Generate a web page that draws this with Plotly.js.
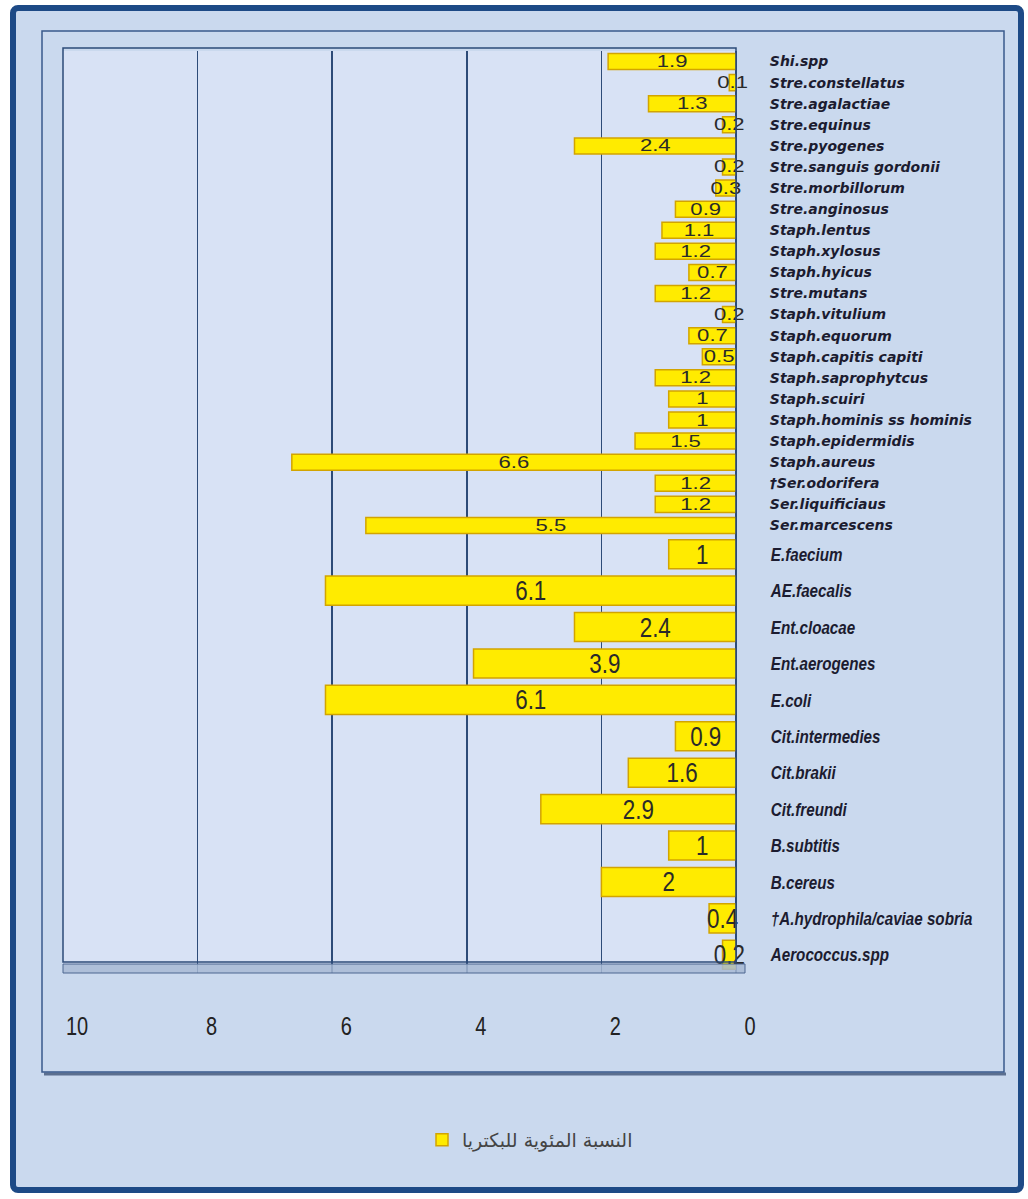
<!DOCTYPE html>
<html>
<head>
<meta charset="utf-8">
<script src="https://cdn.plot.ly/plotly-3.0.1.min.js"></script>
<style>
  html, body { margin: 0; padding: 0; background: #ffffff; }
  #frame {
    position: absolute; left: 10px; top: 5px; width: 1002px; height: 1176px;
    border: 6px solid #1d4a86; border-radius: 8px; background: #cad9ee;
  }
  #chart { position: absolute; left: 0; top: 0; width: 1028px; height: 1199px; }
</style>
</head>
<body>
<div id="frame"></div>
<div id="chart"></div>
<script>
// Gram-positive cocci and Serratia group (upper panel)
const speciesUpper = [
  'Shi.spp', 'Stre.constellatus', 'Stre.agalactiae', 'Stre.equinus', 'Stre.pyogenes',
  'Stre.sanguis gordonii', 'Stre.morbillorum', 'Stre.anginosus', 'Staph.lentus',
  'Staph.xylosus', 'Staph.hyicus', 'Stre.mutans', 'Staph.vitulium', 'Staph.equorum',
  'Staph.capitis capiti', 'Staph.saprophytcus', 'Staph.scuiri', 'Staph.hominis ss hominis',
  'Staph.epidermidis', 'Staph.aureus', '†Ser.odorifera', 'Ser.liquificiaus', 'Ser.marcescens'
];
const percentUpper = [
  1.9, 0.1, 1.3, 0.2, 2.4,
  0.2, 0.3, 0.9, 1.1,
  1.2, 0.7, 1.2, 0.2, 0.7,
  0.5, 1.2, 1, 1,
  1.5, 6.6, 1.2, 1.2, 5.5
];

// Enterococcus, Enterobacter, Citrobacter, Bacillus and others (lower panel)
const speciesLower = [
  'E.faecium', 'AE.faecalis', 'Ent.cloacae', 'Ent.aerogenes', 'E.coli',
  'Cit.intermedies', 'Cit.brakii', 'Cit.freundi', 'B.subtitis', 'B.cereus',
  '†A.hydrophila/caviae sobria', 'Aerococcus.spp'
];
const percentLower = [1, 6.1, 2.4, 3.9, 6.1, 0.9, 1.6, 2.9, 1, 2, 0.4, 0.2];

const xTicks = [0, 2, 4, 6, 8, 10];
const seriesName = 'النسبة المئوية للبكتريا';

const W = 1028, H = 1199;
const px = v => v / W;            // page x pixel -> paper fraction
const py = v => 1 - v / H;        // page y pixel -> paper fraction

const barFill = '#ffeb00';
const barEdge = '#d2a400';
const sans = '"Liberation Sans", Arial, sans-serif';

const upper = {
  type: 'bar', orientation: 'h',
  x: percentUpper, y: speciesUpper,
  xaxis: 'x', yaxis: 'y',
  name: seriesName, legendgroup: 'pct', showlegend: true,
  width: 0.76,
  marker: { color: barFill, line: { color: barEdge, width: 1.5 } },
  texttemplate: '%{x}', textposition: 'inside', insidetextanchor: 'middle',
  textangle: 0, constraintext: 'none', cliponaxis: false,
  textfont: { family: sans, size: 17, color: '#2a2a2a' },
  hoverinfo: 'skip'
};

const lower = {
  type: 'bar', orientation: 'h',
  x: percentLower, y: speciesLower,
  xaxis: 'x', yaxis: 'y2',
  name: seriesName, legendgroup: 'pct', showlegend: false,
  width: 0.8,
  marker: { color: barFill, line: { color: barEdge, width: 1.5 } },
  texttemplate: '%{x}', textposition: 'inside', insidetextanchor: 'middle',
  textangle: 0, constraintext: 'none', cliponaxis: false,
  textfont: { family: sans, size: 28, color: '#2a2a2a' },
  hoverinfo: 'skip'
};

const gridColor = '#2d4b78';
const catAxis = {
  type: 'category', autorange: 'reversed', side: 'right', anchor: 'x',
  showgrid: false, zeroline: false, showline: false,
  ticks: 'outside', ticklen: 30, tickcolor: 'rgba(0,0,0,0)',
  fixedrange: true
};

const layout = {
  width: W, height: H,
  margin: { l: 0, r: 0, t: 0, b: 0, pad: 0 },
  paper_bgcolor: 'rgba(0,0,0,0)',
  plot_bgcolor: '#d8e2f5',
  showlegend: true,
  legend: {
    x: px(530), y: py(1140), xanchor: 'center', yanchor: 'middle',
    bgcolor: 'rgba(0,0,0,0)',
    font: { family: '"DejaVu Sans", sans-serif', size: 19, color: '#444444' }
  },
  xaxis: {
    domain: [px(63), px(736)], range: [10, 0], anchor: 'y2',
    tickvals: xTicks,
    showgrid: true, gridcolor: gridColor, gridwidth: 1.5,
    zeroline: true, zerolinecolor: gridColor, zerolinewidth: 1.5,
    showline: false,
    ticks: 'outside', ticklen: 31, tickcolor: 'rgba(0,0,0,0)',
    ticklabelshift: -14,
    tickfont: { family: sans, size: 25, color: '#222222' },
    fixedrange: true
  },
  yaxis: Object.assign({}, catAxis, {
    domain: [py(536), py(51)],
    tickfont: { family: '"DejaVu Sans", sans-serif', size: 14, weight: 'bold', style: 'italic', color: '#1c1c30' }
  }),
  yaxis2: Object.assign({}, catAxis, {
    domain: [py(973), py(536)],
    tickfont: { family: sans, size: 19, weight: 'bold', style: 'italic', color: '#1c1c30' }
  }),
  shapes: [
    // inner chart panel border with drop shadow
    { type: 'line', xref: 'paper', yref: 'paper', x0: px(44), x1: px(1006), y0: py(1074), y1: py(1074),
      line: { color: '#5b6f8f', width: 3 } },
    { type: 'rect', xref: 'paper', yref: 'paper', x0: px(42), x1: px(1004), y0: py(1072), y1: py(31),
      line: { color: '#3a5a8c', width: 1.5 }, fillcolor: 'rgba(0,0,0,0)' },
    // plot area walls
    { type: 'rect', xref: 'paper', yref: 'paper', x0: px(63), x1: px(736), y0: py(962), y1: py(48),
      line: { color: gridColor, width: 1.5 }, fillcolor: 'rgba(0,0,0,0)' },
    // floor slab
    { type: 'rect', xref: 'paper', yref: 'paper', x0: px(63), x1: px(745), y0: py(973), y1: py(964),
      line: { color: '#4d6690', width: 1 }, fillcolor: 'rgba(167,184,211,0.85)', layer: 'above' }
  ]
};

// Horizontally scale text elements about their own anchor point
// (narrow face for the axis numbers and lower panel, wide face for upper values).
function stretchText(nodes, sx) {
  nodes.forEach(t => {
    const x = parseFloat(t.getAttribute('x')) || 0;
    const y = parseFloat(t.getAttribute('y')) || 0;
    const tr = t.getAttribute('transform') || '';
    t.setAttribute('transform', tr + ' translate(' + x + ',' + y + ') scale(' + sx + ',1) translate(' + (-x) + ',' + (-y) + ')');
  });
}

Plotly.newPlot('chart', [upper, lower], layout, { staticPlot: true, displayModeBar: false })
  .then(gd => {
    const barTraces = gd.querySelectorAll('.barlayer .trace');
    if (barTraces[0]) stretchText(barTraces[0].querySelectorAll('text.bartext'), 1.3);
    if (barTraces[1]) stretchText(barTraces[1].querySelectorAll('text.bartext'), 0.8);
    stretchText(gd.querySelectorAll('.xtick text'), 0.8);
    stretchText(gd.querySelectorAll('.y2tick text'), 0.8);
  });
</script>
</body>
</html>
